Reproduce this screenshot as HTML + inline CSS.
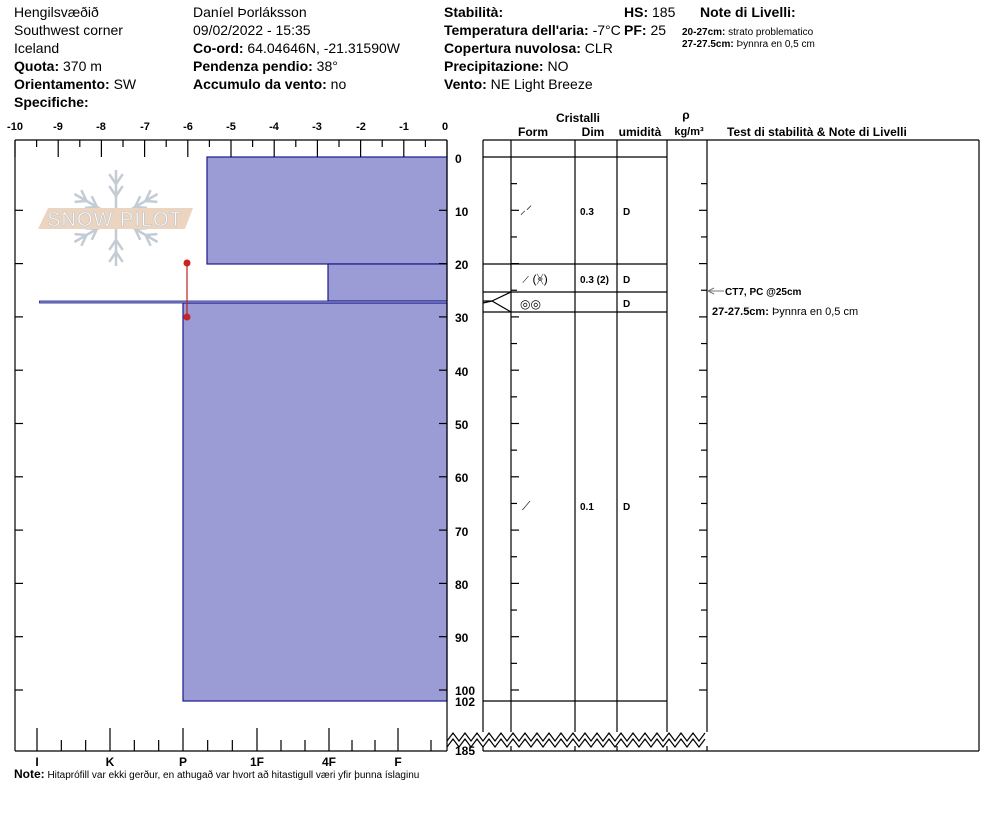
<!DOCTYPE html>
<html><head><meta charset="utf-8"><style>
body{margin:0;background:#fff;width:994px;height:840px;overflow:hidden}
svg{display:block}
text{font-family:"Liberation Sans",Arial,sans-serif;fill:#000}
.h{font-size:14px}
.b{font-weight:bold}
.t{font-size:11px;font-weight:bold}
.d{font-size:12px;font-weight:bold}
.s{font-size:10px}
</style></head><body>
<svg id="s" width="994" height="840" viewBox="0 0 994 840">
<g class="h">
<text x="14" y="17">Hengilsvæðið</text>
<text x="14" y="35">Southwest corner</text>
<text x="14" y="53">Iceland</text>
<text x="14" y="71"><tspan class="b">Quota:</tspan> 370 m</text>
<text x="14" y="89"><tspan class="b">Orientamento:</tspan> SW</text>
<text x="14" y="107" class="b">Specifiche:</text>
<text x="193" y="17">Daníel Þorláksson</text>
<text x="193" y="35">09/02/2022 - 15:35</text>
<text x="193" y="53"><tspan class="b">Co-ord:</tspan> 64.04646N, -21.31590W</text>
<text x="193" y="71"><tspan class="b">Pendenza pendio:</tspan> 38°</text>
<text x="193" y="89"><tspan class="b">Accumulo da vento:</tspan> no</text>
<text x="444" y="17" class="b">Stabilità:</text>
<text x="444" y="35"><tspan class="b">Temperatura dell'aria:</tspan> -7°C</text>
<text x="444" y="53"><tspan class="b">Copertura nuvolosa:</tspan> CLR</text>
<text x="444" y="71"><tspan class="b">Precipitazione:</tspan> NO</text>
<text x="444" y="89"><tspan class="b">Vento:</tspan>  NE Light Breeze</text>
<text x="624" y="17"><tspan class="b">HS:</tspan> 185</text>
<text x="624" y="35"><tspan class="b">PF:</tspan> 25</text>
<text x="700" y="17" class="b">Note di Livelli:</text>
</g>
<text x="682" y="35" class="s"><tspan class="b">20-27cm:</tspan> strato problematico</text>
<text x="682" y="47" class="s"><tspan class="b">27-27.5cm:</tspan>  Þynnra en 0,5 cm</text>

<g stroke="#c3ccd4" stroke-width="2.5" fill="none" id="flake"></g>
<polygon points="48,208 193,208 185,229 38,229" fill="#ecd5c0"/>
<text x="115" y="226" text-anchor="middle" style="font-size:20px;fill:#fff;stroke:#c9c9c9;stroke-width:0.8;letter-spacing:1px">SNOW PILOT</text>

<g fill="#9b9bd6" stroke="#1a1a8c" stroke-width="1.2">
<rect x="207" y="157" width="240" height="107"/>
<rect x="328" y="264" width="119" height="37"/>
<rect x="183" y="303" width="264" height="398"/>
</g>
<rect x="39.5" y="301" width="407.5" height="2" fill="#9b9bd6" stroke="#1a1a8c" stroke-width="0.8"/>
<line x1="187" y1="263" x2="187" y2="317" stroke="#b22" stroke-width="1.2"/>
<circle cx="187" cy="263" r="3.5" fill="#c22"/>
<circle cx="187" cy="317" r="3.5" fill="#c22"/>

<g id="axes" stroke="#000" stroke-width="1.2"></g>

<g class="t">
<text x="15" y="130" text-anchor="middle">-10</text><text x="58" y="130" text-anchor="middle">-9</text>
<text x="101" y="130" text-anchor="middle">-8</text><text x="145" y="130" text-anchor="middle">-7</text>
<text x="188" y="130" text-anchor="middle">-6</text><text x="231" y="130" text-anchor="middle">-5</text>
<text x="274" y="130" text-anchor="middle">-4</text><text x="317" y="130" text-anchor="middle">-3</text>
<text x="361" y="130" text-anchor="middle">-2</text><text x="404" y="130" text-anchor="middle">-1</text>
<text x="445" y="130" text-anchor="middle">0</text>
</g>
<g class="d">
<text x="455" y="163">0</text><text x="455" y="216">10</text><text x="455" y="269">20</text>
<text x="455" y="322">30</text><text x="455" y="376">40</text><text x="455" y="429">50</text>
<text x="455" y="482">60</text><text x="455" y="536">70</text><text x="455" y="589">80</text>
<text x="455" y="642">90</text><text x="455" y="695">100</text><text x="455" y="706">102</text>
<text x="455" y="755">185</text>
<text x="37" y="766" text-anchor="middle">I</text><text x="110" y="766" text-anchor="middle">K</text>
<text x="183" y="766" text-anchor="middle">P</text><text x="257" y="766" text-anchor="middle">1F</text>
<text x="329" y="766" text-anchor="middle">4F</text><text x="398" y="766" text-anchor="middle">F</text>
</g>
<text x="14" y="778" class="s"><tspan class="b" style="font-size:12px">Note:</tspan>  Hitaprófill var ekki gerður, en athugað var hvort að hitastigull væri yfir þunna íslaginu</text>

<g class="h b" style="font-size:12px">
<text x="578" y="122" text-anchor="middle">Cristalli</text>
<text x="533" y="136" text-anchor="middle">Form</text>
<text x="593" y="136" text-anchor="middle">Dim</text>
<text x="640" y="136" text-anchor="middle">umidità</text>
<text x="686" y="119" text-anchor="middle">ρ</text>
<text x="689" y="135" text-anchor="middle" style="font-size:11px">kg/m³</text>
<text x="727" y="136">Test di stabilità &amp; Note di Livelli</text>
</g>
<g class="s b">
<text x="580" y="215">0.3</text><text x="623" y="215">D</text>
<text x="580" y="283">0.3 (2)</text><text x="623" y="283">D</text>
<text x="623" y="307">D</text>
<text x="580" y="510">0.1</text><text x="623" y="510">D</text>
<text x="725" y="295">CT7, PC @25cm</text>
<text x="712" y="315" style="font-size:11px">27-27.5cm: <tspan style="font-weight:normal">Þynnra en 0,5 cm</tspan></text>
</g>
<text x="520" y="214" style="font-size:12px">⸝⸍</text>
<text x="522" y="283" style="font-size:12px">⟋ (ᚸ)</text>
<text x="520" y="308" style="font-size:12px">◎◎</text>
<text x="522" y="510" style="font-size:12px">⟋</text>
<g stroke="#777" stroke-width="1"><line x1="708" y1="291" x2="724" y2="291"/><polyline points="714,288 708,291 714,294" fill="none"/></g>
</svg>
<script>
var ns="http://www.w3.org/2000/svg",g=document.getElementById('axes');
function L(a,b,c,d){var l=document.createElementNS(ns,'line');l.setAttribute('x1',a);l.setAttribute('y1',b);l.setAttribute('x2',c);l.setAttribute('y2',d);g.appendChild(l);}
function Y(cm){return 157+cm*5.33;}
L(15,140,447,140);L(15,140,15,751);L(15,751,447,751);L(447,140,447,751);
for(var i=0;i<=20;i++){var x=15+i*21.6;L(x,140,x,i%2?147:157);}
for(var c=10;c<=100;c+=10){L(15,Y(c),23,Y(c));L(439,Y(c),447,Y(c));}
var hx=[37,110,183,257,329,398];
hx.forEach(function(x,i){L(x,728,x,751);if(i<5){for(var k=1;k<3;k++){var xx=x+(hx[i+1]-x)*k/3;L(xx,740,xx,751);}}});
L(447-16,740,447-16,751);
L(483,140,979,140);L(979,140,979,751);L(483,751,979,751);
[483,511,575,617,667,707].forEach(function(x){L(x,140,x,732);L(x,746,x,751);});
L(483,157,667,157);[264,292,312,701].forEach(function(y){L(483,y,667,y);});
for(var c=5;c<=100;c+=5){L(511,Y(c),c%10?517:519,Y(c));L(c%10?701:699,Y(c),707,Y(c));}
L(483,301,492,301);L(492,301,511,292);L(492,301,511,312);L(483,303,492,301);
var p="";for(var x=447;x<=707;x+=6){p+=x+","+(((x-447)/6)%2?733:741)+" ";}
[0,1].forEach(function(j){var pl=document.createElementNS(ns,'polyline');var pts=p.trim().split(" ").map(function(s){var q=s.split(",");return q[0]+","+(+q[1]+j*6);}).join(" ");pl.setAttribute('points',pts);pl.setAttribute('fill','none');pl.setAttribute('stroke','#000');g.appendChild(pl);});
var f=document.getElementById('flake'),cx=116,cy=218;
function F(x1,y1,x2,y2){var l=document.createElementNS(ns,'line');l.setAttribute('x1',x1);l.setAttribute('y1',y1);l.setAttribute('x2',x2);l.setAttribute('y2',y2);f.appendChild(l);}
for(var a=0;a<6;a++){var t=a*Math.PI/3+Math.PI/2,dx=Math.cos(t),dy=Math.sin(t);
F(cx+dx*8,cy+dy*8,cx+dx*48,cy+dy*48);
[22,34].forEach(function(r){var bx=cx+dx*r,by=cy+dy*r;[0.6,-0.6].forEach(function(o){var tt=t+o*1.0;F(bx,by,bx+Math.cos(tt)*12,by+Math.sin(tt)*12);});});}
</script>
</body></html>
